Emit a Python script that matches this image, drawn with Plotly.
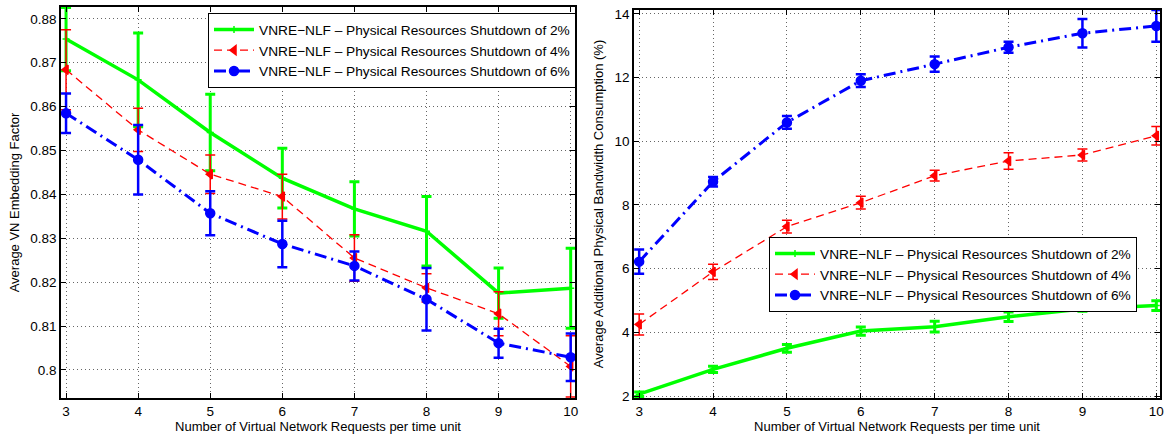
import plotly.graph_objects as go

x_req = [3, 4, 5, 6, 7, 8, 9, 10]

# Left: Average VN Embedding Factor
emb_2 = [0.8754, 0.8661, 0.8541, 0.8437, 0.8367, 0.8316, 0.8175, 0.8186]
emb_2_err = [0.0072, 0.0107, 0.0087, 0.0068, 0.0062, 0.0079, 0.0057, 0.0091]
emb_4 = [0.8684, 0.8547, 0.8446, 0.8395, 0.8255, 0.8187, 0.8128, 0.8008]
emb_4_err = [0.0091, 0.0049, 0.0044, 0.0051, 0.0053, 0.0032, 0.0050, 0.0070]
emb_6 = [0.8585, 0.8479, 0.8357, 0.8287, 0.8237, 0.8161, 0.8061, 0.8029]
emb_6_err = [0.0045, 0.0079, 0.0050, 0.0053, 0.0033, 0.0071, 0.0033, 0.0054]

# Right: Average Additional Physical Bandwidth Consumption (%)
bw_2 = [2.06, 2.84, 3.50, 4.04, 4.18, 4.49, 4.73, 4.84]
bw_2_err = [0.07, 0.10, 0.12, 0.13, 0.17, 0.15, 0.07, 0.15]
bw_4 = [4.25, 5.90, 7.32, 8.07, 8.92, 9.38, 9.57, 10.17]
bw_4_err = [0.33, 0.24, 0.20, 0.20, 0.17, 0.26, 0.19, 0.29]
bw_6 = [6.22, 8.73, 10.59, 11.90, 12.42, 12.95, 13.39, 13.62]
bw_6_err = [0.38, 0.15, 0.20, 0.20, 0.24, 0.17, 0.45, 0.50]

names = ["VNRE\u2212NLF \u2013 Physical Resources Shutdown of 2%",
         "VNRE\u2212NLF \u2013 Physical Resources Shutdown of 4%",
         "VNRE\u2212NLF \u2013 Physical Resources Shutdown of 6%"]

left_yticks = [0.80, 0.81, 0.82, 0.83, 0.84, 0.85, 0.86, 0.87, 0.88]
left_yticktext = ["0.8", "0.81", "0.82", "0.83", "0.84", "0.85", "0.86", "0.87", "0.88"]
right_yticks = [2, 4, 6, 8, 10, 12, 14]

FONT = "Liberation Sans, Arial, sans-serif"
GREEN = "#00ff00"
RED = "#ff0000"
BLUE = "#0000ff"

styles = [
    dict(color=GREEN, dash="solid", width=3.5, symbol="cross-thin", msize=5, ethick=3),
    dict(color=RED, dash="8px,5px", width=1.3, symbol="triangle-left", msize=8, ethick=1.5),
    dict(color=BLUE, dash="12px,5px,2px,5px", width=3, symbol="circle", msize=9, ethick=2.5),
]

fig = go.Figure()

left_sets = [(emb_2, emb_2_err), (emb_4, emb_4_err), (emb_6, emb_6_err)]
right_sets = [(bw_2, bw_2_err), (bw_4, bw_4_err), (bw_6, bw_6_err)]

for axes, legend, sets in [(("x", "y"), "legend", left_sets), (("x2", "y2"), "legend2", right_sets)]:
    for i, (vals, errs) in enumerate(sets):
        s = styles[i]
        fig.add_trace(go.Scatter(
            x=x_req, y=vals, name=names[i], mode="lines+markers",
            line=dict(color=s["color"], dash=s["dash"], width=s["width"]),
            marker=dict(symbol=s["symbol"], size=s["msize"], color=s["color"],
                        line=dict(color=s["color"], width=1.5)),
            error_y=dict(type="data", array=errs, color=s["color"], thickness=s["ethick"], width=5),
            xaxis=axes[0], yaxis=axes[1], legend=legend, cliponaxis=True))

axis_common = dict(
    showline=True, linecolor="black", linewidth=1.5, mirror="ticks",
    ticks="inside", ticklen=5, tickcolor="black",
    showgrid=True, gridcolor="#666666", griddash="1px,3px", gridwidth=1,
    zeroline=False, tickfont=dict(family=FONT, size=13.5, color="black"),
    automargin=False,
)

legend_common = dict(
    bgcolor="white", bordercolor="black", borderwidth=1,
    font=dict(family=FONT, size=13.7, color="black"),
    xanchor="left", yanchor="top", tracegroupgap=0, itemwidth=40,
)

TITLE_FONT = dict(family=FONT, size=13, color="black")

fig.update_layout(
    width=1168, height=438,
    margin=dict(l=0, r=0, t=0, b=0),
    paper_bgcolor="white", plot_bgcolor="white",
    font=dict(family=FONT, size=13, color="black"),
    xaxis=dict(domain=[61/1168, 575/1168], range=[2.93, 10.06],
               tickvals=x_req, anchor="y",
               title=dict(text="Number of Virtual Network Requests per time unit",
                          font=TITLE_FONT, standoff=4),
               **axis_common),
    yaxis=dict(domain=[40/438, 431/438], range=[0.7936, 0.8827],
               tickvals=left_yticks, ticktext=left_yticktext, anchor="x",
               title=dict(text="Average VN Embedding Factor",
                          font=TITLE_FONT, standoff=8),
               **axis_common),
    xaxis2=dict(domain=[634/1168, 1160/1168], range=[2.93, 10.05],
                tickvals=x_req, anchor="y2",
                title=dict(text="Number of Virtual Network Requests per time unit",
                           font=TITLE_FONT, standoff=4),
                **axis_common),
    yaxis2=dict(domain=[40/438, 428/438], range=[1.94, 14.12],
                tickvals=right_yticks, anchor="x2",
                title=dict(text="Average Additional Physical Bandwidth Consumption (%)",
                           font=TITLE_FONT, standoff=8),
                **axis_common),
    legend=dict(x=208/1168, y=1 - 13/438, **legend_common),
    legend2=dict(x=769/1168, y=1 - 237/438, **legend_common),
    showlegend=True,
)

fig.write_html("out.html", config={"displayModeBar": False},
               post_script="document.body.style.margin='0';document.body.style.overflow='hidden';")
